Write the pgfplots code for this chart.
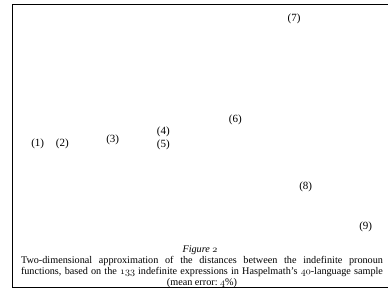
\documentclass[border=0pt]{standalone}
\usepackage{fontspec}
\setmainfont{Liberation Serif}
\usepackage{pgfplots}
\pgfplotsset{compat=1.18}
\usepackage{pgfplotstable}
\newcommand{\osf}[1]{$\mathnormal{#1}$}
\pgfplotstableread{
x y lab
37.7 146.0 (1)
62.3 146.0 (2)
112.7 150.0 (3)
163.3 158.3 (4)
163.3 145.0 (5)
235.3 170.0 (6)
294.0 270.7 (7)
305.7 103.3 (8)
365.7 62.7 (9)
}\pts
\begin{document}
\begin{tikzpicture}[x=1pt,y=1pt]
\useasboundingbox (0,0) rectangle (388,290);
\begin{axis}[at={(0,0)},anchor=origin,
  scale only axis, width=388pt, height=290pt,
  xmin=0, xmax=388, ymin=0, ymax=290,
  hide axis, clip=false]
\addplot[only marks, mark=none, point meta=explicit symbolic,
  nodes near coords,
  nodes near coords style={anchor=center, font=\fontsize{11}{12}\selectfont, inner sep=0pt}]
  table[x=x, y=y, meta=lab] {\pts};
\draw[line width=1.1pt] (axis cs:400,285.7) -- (axis cs:12.5,285.7) -- (axis cs:12.5,2.4) -- (axis cs:400,2.4);
\node[font=\fontsize{10.2}{11.6}\selectfont\itshape, anchor=center] at (axis cs:200,40) {Figure \osf{2}};
\node[anchor=north, inner sep=0pt, text width=362pt, align=justify, font=\fontsize{10.2}{11.2}\selectfont] at (axis cs:202,34)
 {{\parfillskip=0pt Two-dimensional approximation of the distances between the indefinite pronoun\linebreak functions, based on the \osf{133} indefinite expressions in Haspelmath's \osf{40}-language sample\par}\centering (mean error:~\osf{4}\%)\par};
\end{axis}
\end{tikzpicture}
\end{document}
